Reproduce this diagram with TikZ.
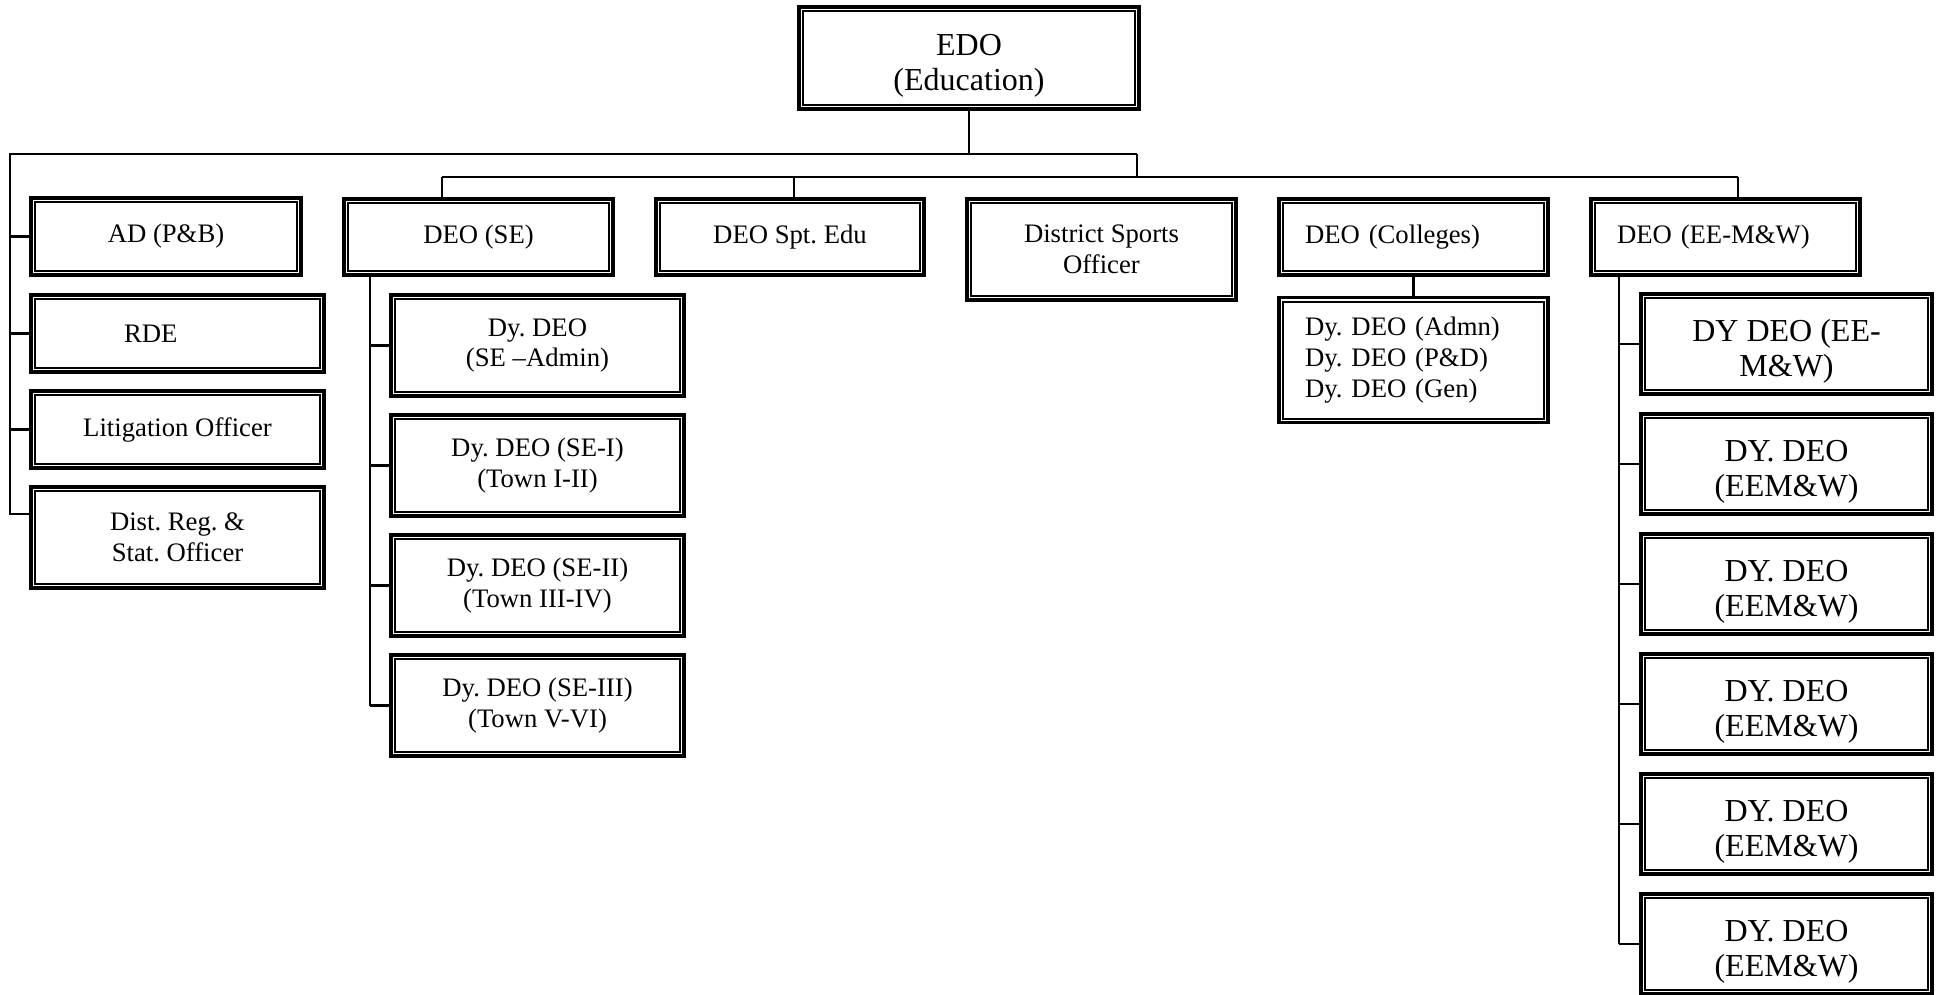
\documentclass[tikz,border=0pt]{standalone}
\usepackage{fontspec}
\setmainfont{Liberation Serif}
\newcommand{\smallsz}{\fontsize{26.7pt}{31pt}\selectfont}
\newcommand{\bigsz}{\fontsize{32pt}{35.5pt}\selectfont}
\frenchspacing

\begin{document}
\begin{tikzpicture}[x=1pt,y=-1pt,
    unit/.style={draw,line width=3.2pt,inner sep=0pt,align=center,font=\smallsz,
      path picture={\draw[line width=2pt]
        ([shift={(4pt,4pt)}]path picture bounding box.south west) rectangle
        ([shift={(-4pt,-4pt)}]path picture bounding box.north east);}},
    bigunit/.style={unit,font=\bigsz,execute at begin node={\rule{0pt}{72pt}}},
    leftunit/.style={unit,align=left,text width=217pt,inner xsep=26pt,minimum width=269pt,minimum height=76pt},
    link/.style={line width=2.2pt}]
        \useasboundingbox (0,0) rectangle (1942,995);
        % top
        \node[bigunit,minimum width=340pt,minimum height=102pt] (edo) at (969,58) {EDO\\(Education)};
        % left column
        \node[unit,minimum width=270pt,minimum height=77pt] (ad) at (166,236.5) {AD (P\&B)};
        \node[unit,minimum width=293pt,minimum height=77pt,align=left,text width=107pt,inner xsep=93pt] (rde) at (177.5,333.5) {RDE};
        \node[unit,minimum width=293pt,minimum height=77pt] (lit) at (177.5,429.5) {Litigation Officer};
        \node[unit,minimum width=293pt,minimum height=101pt] (dreg) at (177.5,537.5) {Dist. Reg. \&\\Stat. Officer};
        % second row
        \node[unit,minimum width=269pt,minimum height=76pt] (deose) at (478.5,237) {DEO (SE)};
        \node[unit,minimum width=268pt,minimum height=76pt] (spt) at (790,237) {DEO Spt. Edu};
        \node[unit,minimum width=269pt,minimum height=101pt] (dso) at (1101.5,249.5) {District Sports\\Officer};
        \node[leftunit] (col) at (1413.5,237) {DEO (Colleges)};
        \node[leftunit,minimum height=125pt] (coldy) at (1413.5,360) {Dy. DEO (Admn)\\Dy. DEO (P\&D)\\Dy. DEO (Gen)};
        \node[leftunit] (eemw) at (1725.5,237) {DEO (EE-M\&W)};
        % DEO (SE) column
        \node[unit,minimum width=293pt,minimum height=101pt] (se1) at (537.5,345.5) {Dy. DEO\\(SE --Admin)};
        \node[unit,minimum width=293pt,minimum height=101pt] (se2) at (537.5,465.5) {Dy. DEO (SE-I)\\(Town I-II)};
        \node[unit,minimum width=293pt,minimum height=101pt] (se3) at (537.5,585.5) {Dy. DEO (SE-II)\\(Town III-IV)};
        \node[unit,minimum width=293pt,minimum height=101pt] (se4) at (537.5,705.5) {Dy. DEO (SE-III)\\(Town V-VI)};
        % DEO (EE-M&W) column
        \node[bigunit,minimum width=291pt,minimum height=100pt] (ee1) at (1786.5,344) {DY DEO (EE-\\M\&W)};
        \node[bigunit,minimum width=291pt,minimum height=100pt] (ee2) at (1786.5,464) {DY. DEO\\(EEM\&W)};
        \node[bigunit,minimum width=291pt,minimum height=100pt] (ee3) at (1786.5,584) {DY. DEO\\(EEM\&W)};
        \node[bigunit,minimum width=291pt,minimum height=100pt] (ee4) at (1786.5,704) {DY. DEO\\(EEM\&W)};
        \node[bigunit,minimum width=291pt,minimum height=100pt] (ee5) at (1786.5,824) {DY. DEO\\(EEM\&W)};
        \node[bigunit,minimum width=291pt,minimum height=100pt] (ee6) at (1786.5,944) {DY. DEO\\(EEM\&W)};
        % connectors
        \coordinate (topL) at (10,154);
        \coordinate (topR) at (1137,154);
        \coordinate (regtick) at (10,514);
        \coordinate (busL) at (442,177);
        \coordinate (busM) at (794,177);
        \coordinate (busR) at (1738,177);
        \coordinate (seline) at (370,705.5);
        \coordinate (eeline) at (1619,944);
        \draw[link] (edo.south) -- (edo.south |- topL);
        \draw[link] (topR) -- (topL) -- (regtick) -- (regtick -| dreg.west);
        \draw[link] (ad.west -| topL) -- (ad.west);
        \draw[link] (rde.west -| topL) -- (rde.west);
        \draw[link] (lit.west -| topL) -- (lit.west);
        \draw[link] (topR) -- (topR |- busL);
        \draw[link] (busL) -- (busR);
        \draw[link] (busL) -- (busL |- deose.north);
        \draw[link] (busM) -- (busM |- spt.north);
        \draw[link] (busR) -- (busR |- eemw.north);
        \draw[link] (col.south) -- (coldy.north);
        \draw[link] (seline |- deose.south) -- (seline);
        \draw[link] (se1.west -| seline) -- (se1.west);
        \draw[link] (se2.west -| seline) -- (se2.west);
        \draw[link] (se3.west -| seline) -- (se3.west);
        \draw[link] (se4.west -| seline) -- (se4.west);
        \draw[link] (eeline |- eemw.south) -- (eeline);
        \draw[link] (ee1.west -| eeline) -- (ee1.west);
        \draw[link] (ee2.west -| eeline) -- (ee2.west);
        \draw[link] (ee3.west -| eeline) -- (ee3.west);
        \draw[link] (ee4.west -| eeline) -- (ee4.west);
        \draw[link] (ee5.west -| eeline) -- (ee5.west);
        \draw[link] (ee6.west -| eeline) -- (ee6.west);
\end{tikzpicture}
\end{document}
